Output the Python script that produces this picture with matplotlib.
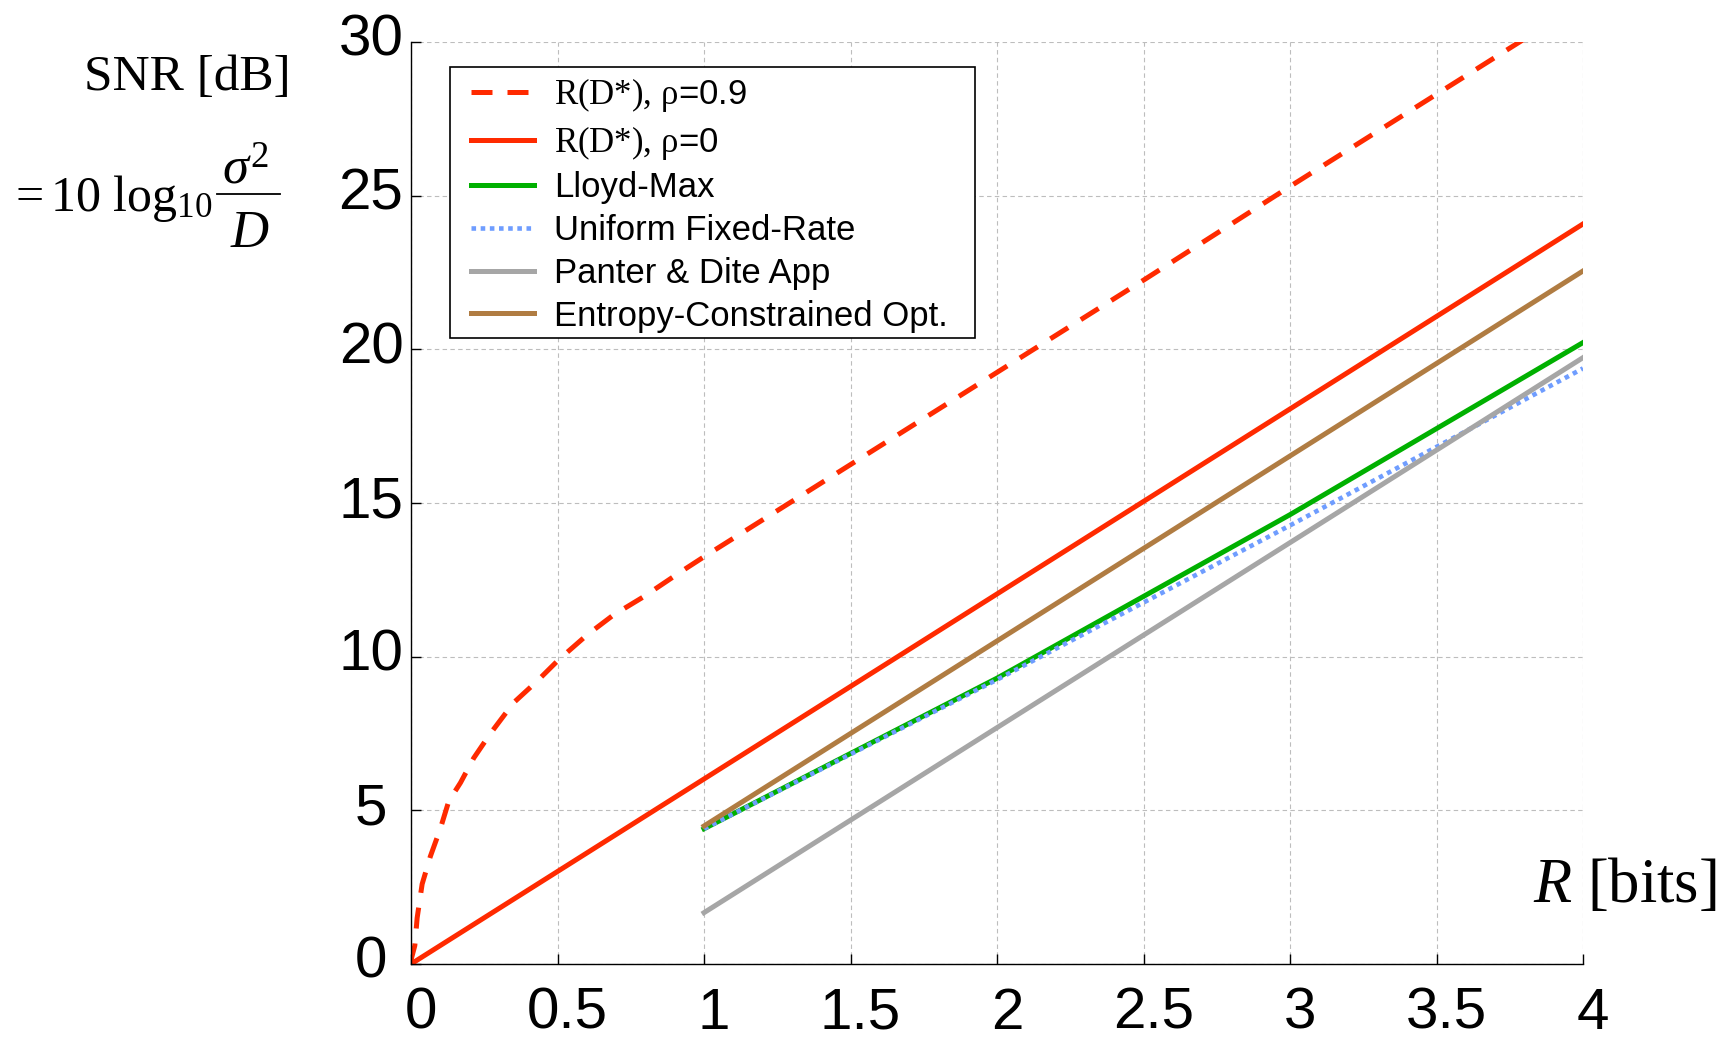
import matplotlib
matplotlib.use("Agg")
import matplotlib.pyplot as plt
import matplotlib.transforms as mtransforms
from matplotlib.lines import Line2D
from matplotlib.patches import Rectangle

plt.rcParams['font.family'] = ['Liberation Sans', 'DejaVu Sans']
plt.rcParams['mathtext.fontset'] = 'custom'
plt.rcParams['mathtext.rm'] = 'Liberation Serif'
plt.rcParams['mathtext.it'] = 'Liberation Serif:italic'
plt.rcParams['mathtext.bf'] = 'Liberation Serif:bold'

# ---- data ----
rate_rd09 = [0, 0.002, 0.013, 0.021, 0.038, 0.066, 0.10, 0.129, 0.169, 0.214,
             0.271, 0.35, 0.43, 0.504, 0.60, 0.69, 0.794, 0.919, 1.0, 1.5,
             2.0, 2.5, 3.0, 3.5, 4.0]
snr_rd09 = [0, 0.2, 0.6, 1.5, 2.6, 3.5, 4.4, 5.3, 5.9, 6.7,
            7.5, 8.5, 9.2, 9.9, 10.7, 11.35, 11.95, 12.75, 13.25, 16.25,
            19.25, 22.25, 25.3, 28.3, 31.3]

rate_rd0 = [0, 4]
snr_rd0 = [0, 24.08]

rate_lm = [1, 2, 3, 4]
snr_lm = [4.40, 9.30, 14.62, 20.22]

rate_uni = [1, 2, 3, 4]
snr_uni = [4.40, 9.25, 14.27, 19.38]

rate_pd = [1, 4]
snr_pd = [1.67, 19.73]

rate_ec = [1, 4]
snr_ec = [4.49, 22.55]

labels = [r"$\mathrm{R(D{*}),\,ρ}$=0.9", r"$\mathrm{R(D{*}),\,ρ}$=0",
          "Lloyd-Max", "Uniform Fixed-Rate", "Panter & Dite App",
          "Entropy-Constrained Opt."]
colors = ['#ff2a00', '#ff2a00', '#00b000', '#6f9dff', '#a6a6a6', '#b07c42']

xticks = [0, 0.5, 1, 1.5, 2, 2.5, 3, 3.5, 4]
xticklabels = ['0', '0.5', '1', '1.5', '2', '2.5', '3', '3.5', '4']
yticks = [0, 5, 10, 15, 20, 25, 30]
yticklabels = ['0', '5', '10', '15', '20', '25', '30']

W, H = 1726, 1038
fig = plt.figure(figsize=(W / 100, H / 100), dpi=100)
ax = fig.add_axes([411 / W, 1 - 964 / H, (1583 - 411) / W, (964 - 42) / H])

lw = 3.6
ax.plot(rate_rd09, snr_rd09, color=colors[0], lw=lw, linestyle=(0, (4.2, 3.0)), label=labels[0])
ax.plot(rate_rd0, snr_rd0, color=colors[1], lw=lw, label=labels[1])
ax.plot(rate_lm, snr_lm, color=colors[2], lw=lw, label=labels[2])
ax.plot(rate_uni, snr_uni, color=colors[3], lw=3.3, linestyle=(0, (1, 1)), label=labels[3])
ax.plot(rate_pd, snr_pd, color=colors[4], lw=lw, label=labels[4])
ax.plot(rate_ec, snr_ec, color=colors[5], lw=lw, label=labels[5])

ax.set_xlim(0, 4)
ax.set_ylim(0, 30)
ax.set_xticks(xticks)
ax.set_xticklabels(xticklabels)
ax.set_yticks(yticks)
ax.set_yticklabels(yticklabels, ha='center')
ax.tick_params(axis='both', direction='in', length=7, width=1, labelsize=42,
               colors='black')
ax.tick_params(axis='x', pad=16.5)
ax.tick_params(axis='y', pad=28.8)
# small offsets of tick labels as in the reference
xoff = mtransforms.ScaledTranslation(0.10, 0, fig.dpi_scale_trans)
for lab in ax.get_xticklabels():
    lab.set_transform(lab.get_transform() + xoff)
yoff = mtransforms.ScaledTranslation(0, 0.07, fig.dpi_scale_trans)
for lab in ax.get_yticklabels():
    lab.set_transform(lab.get_transform() + yoff)

ax.grid(True, color='#bdbdbd', linestyle=(0, (4, 3)), linewidth=0.8)
ax.set_axisbelow(True)
for s in ['top', 'right']:
    ax.spines[s].set_visible(False)
for s in ['left', 'bottom']:
    ax.spines[s].set_color('black')
    ax.spines[s].set_linewidth(1.0)

# legend frame drawn separately for exact padding
frame = Rectangle((450 / W, 1 - 338 / H), (975 - 450) / W, (338 - 67) / H,
                  transform=fig.transFigure, facecolor='white',
                  edgecolor='black', linewidth=1.2, clip_on=False, zorder=4)
ax.add_patch(frame)
leg = ax.legend(loc='upper left', bbox_to_anchor=(471 / W, 1 - 76 / H),
                bbox_transform=fig.transFigure, borderaxespad=0,
                fontsize=25, handlelength=1.81, handletextpad=0.57,
                labelspacing=0.28, borderpad=0, frameon=False)
leg.set_zorder(5)

# y-axis label (two lines, the second a hand-built fraction)
fig.text(187 / W, 1 - 78 / H, "SNR [dB]", family='Liberation Serif',
         fontsize=37, ha='center', va='center')
fig.text(8 / W, 1 - 211 / H, r"$=10\ \log_{10}$", fontsize=36,
         ha='left', va='baseline')
fig.text(245 / W, 1 - 184 / H, r"$\sigma^{2}$", fontsize=38,
         ha='center', va='baseline')
fig.text(250 / W, 1 - 247 / H, r"$D$", fontsize=38,
         ha='center', va='baseline')
fig.add_artist(Line2D([217 / W, 280 / W], [1 - 194 / H, 1 - 194 / H],
                      transform=fig.transFigure, color='black', lw=1.3))

fig.text(1717 / W, 1 - 887 / H, r"$R$ [bits]", family='Liberation Serif',
         fontsize=45, ha='right', va='center')

fig.savefig("out.png", dpi=100)
